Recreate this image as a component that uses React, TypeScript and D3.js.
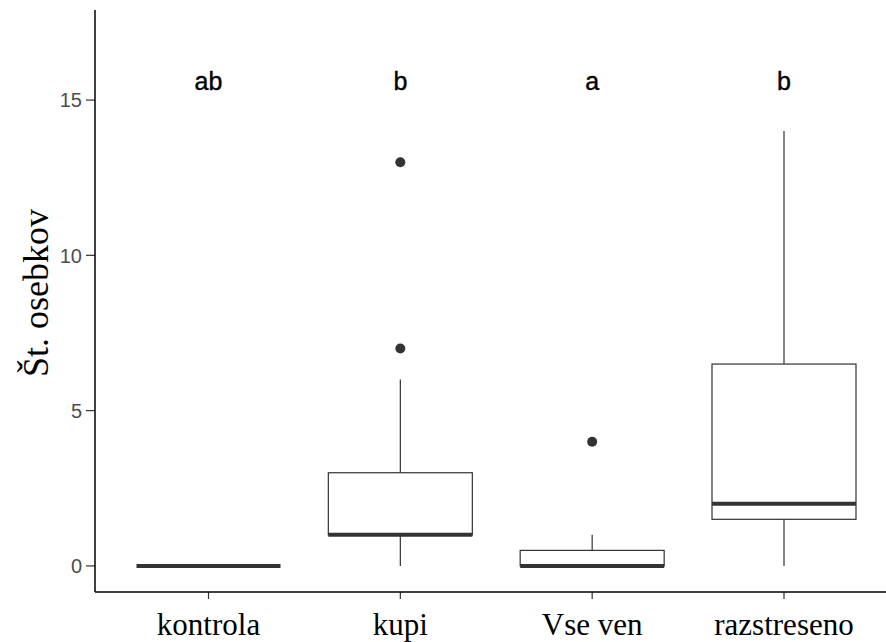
import React from "react";
import * as d3 from "d3";

const categories = ["kontrola", "kupi", "Vse ven", "razstreseno"];
const whiskerLow = [0, 0, 0, 0];
const q1 = [0, 1, 0, 1.5];
const median = [0, 1, 0, 2];
const q3 = [0, 3, 0.5, 6.5];
const whiskerHigh = [0, 6, 1, 14];
const outliers = [[], [7, 13], [4], []];
const groupLetters = ["ab", "b", "a", "b"];
const letterY = 15.6;
const yTicks = [0, 5, 10, 15];

const W = 886;
const H = 642;

export default function App() {
  const x = d3.scalePoint<string>().domain(categories).range([208.5, 784]);
  const y = d3.scaleLinear().domain([-0.84, 17.9]).range([592, 10]);
  const halfW = 72;
  const axisX = 95;
  const axisY = 592;
  const lineCol = "#333333";

  return (
    <svg
      width={W}
      height={H}
      style={{ position: "absolute", left: 0, top: 0, background: "#fff" }}
    >
      <rect x={0} y={0} width={W} height={H} fill="#fff" />
      {categories.map((c, i) => {
        const cx = x(c) as number;
        return (
          <g key={c}>
            <line x1={cx} x2={cx} y1={y(whiskerLow[i])} y2={y(q1[i])} stroke={lineCol} strokeWidth={1.2} />
            <line x1={cx} x2={cx} y1={y(q3[i])} y2={y(whiskerHigh[i])} stroke={lineCol} strokeWidth={1.2} />
            <rect
              x={cx - halfW}
              y={y(q3[i])}
              width={halfW * 2}
              height={Math.max(0, y(q1[i]) - y(q3[i]))}
              fill="#fff"
              stroke={lineCol}
              strokeWidth={1.2}
            />
            <line x1={cx - halfW} x2={cx + halfW} y1={y(median[i])} y2={y(median[i])} stroke={lineCol} strokeWidth={4} />
            {outliers[i].map((o, j) => (
              <circle key={j} cx={cx} cy={y(o)} r={5} fill={lineCol} />
            ))}
            <text
              x={cx}
              y={y(letterY)}
              dy="0.35em"
              textAnchor="middle"
              fontFamily="Liberation Sans, Arial, sans-serif"
              fontSize={25}
              fill="#000"
              stroke="#000"
              strokeWidth={0.4}
            >
              {groupLetters[i]}
            </text>
            <line x1={cx} x2={cx} y1={axisY} y2={axisY + 7} stroke={lineCol} strokeWidth={1.2} />
            <text
              x={cx}
              y={635}
              textAnchor="middle"
              fontFamily="Liberation Serif, Times New Roman, serif"
              fontSize={31}
              fill="#000"
            >
              {c}
            </text>
          </g>
        );
      })}
      {yTicks.map((t) => (
        <g key={t}>
          <line x1={axisX - 9} x2={axisX} y1={y(t)} y2={y(t)} stroke={lineCol} strokeWidth={1.2} />
          <text
            x={82}
            y={y(t)}
            dy="0.36em"
            textAnchor="end"
            fontFamily="Liberation Sans, Arial, sans-serif"
            fontSize={20}
            fill="#4d4d4d"
          >
            {t}
          </text>
        </g>
      ))}
      <line x1={axisX} x2={axisX} y1={10} y2={axisY} stroke="#000" strokeWidth={1.5} />
      <line x1={axisX} x2={W} y1={axisY} y2={axisY} stroke="#000" strokeWidth={1.5} />
      <text
        transform={`translate(48, ${(10 + axisY) / 2 - 8}) rotate(-90)`}
        textAnchor="middle"
        fontFamily="Liberation Serif, Times New Roman, serif"
        fontSize={36}
        fill="#000"
      >
        Št. osebkov
      </text>
    </svg>
  );
}
